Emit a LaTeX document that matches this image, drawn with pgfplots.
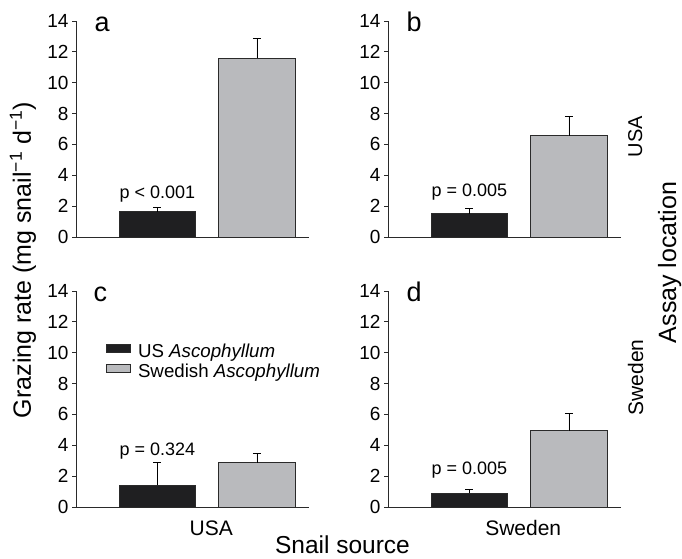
\documentclass[border=0pt]{standalone}
\usepackage{fontspec}
\setmainfont{Liberation Sans}
\usepackage{pgfplots}
\pgfplotsset{compat=1.18}
\definecolor{barblack}{HTML}{1F1F21}
\definecolor{bargray}{HTML}{B9BABD}
\definecolor{edge}{HTML}{2A2A2A}
\newcommand{\fs}[1]{\fontsize{#1}{#1}\selectfont}
\pgfplotsset{
  panel/.style={
    scale only axis, width=233pt, height=216pt,
    xmin=0.181, xmax=2.523, ymin=0, ymax=14,
    axis x line=bottom, axis y line=left,
    axis line style={-, line width=0.8pt, draw=edge},
    xtick=\empty, ytick={0,2,...,14},
    tick align=outside, major tick length=4pt,
    tick style={line width=0.8pt, draw=edge},
    yticklabel style={font=\fs{19}},
    /pgf/number format/assume math mode=true,
    clip=false,
  },
  barbase/.style={ybar, bar width=0.77, bar shift=0pt, line width=1pt, draw=edge,
    error bars/y dir=plus, error bars/y explicit,
    error bars/error bar style={line width=0.8pt, draw=black, solid},
    error bars/error mark options={rotate=90, line width=0.8pt, mark size=4pt, draw=black}},
  blk/.style={barbase, fill=barblack,
    legend image code/.code={\draw[fill=barblack, draw=edge, line width=1pt] (0pt,-0.7pt) rectangle (24pt,7.3pt);}},
  gry/.style={barbase, fill=bargray,
    legend image code/.code={\draw[fill=bargray, draw=edge, line width=1pt] (0pt,-0.7pt) rectangle (24pt,7.3pt);}},
}
\begin{document}
\begin{tikzpicture}[x=1pt,y=1pt]
\path[use as bounding box] (0,0) rectangle (682,558);

% panel a
\begin{axis}[panel, at={(76pt,321pt)}, anchor=south west]
\addplot[blk] coordinates {(1,1.63) +- (0,0.30)};
\addplot[gry] coordinates {(2,11.57) +- (0,1.30)};
\node[anchor=base west, font=\fs{27}] at (rel axis cs:0.065,0.95) {a};
\node[anchor=base, font=\fs{18}] at (axis cs:1,2.5) {p < 0.001};
\end{axis}

% panel b
\begin{axis}[panel, at={(388pt,321pt)}, anchor=south west]
\addplot[blk] coordinates {(1,1.50) +- (0,0.37)};
\addplot[gry] coordinates {(2,6.55) +- (0,1.28)};
\node[anchor=base west, font=\fs{27}] at (rel axis cs:0.065,0.95) {b};
\node[anchor=base, font=\fs{18}] at (axis cs:1,2.62) {p = 0.005};
\end{axis}

% panel c
\begin{axis}[panel, at={(76pt,51pt)}, anchor=south west,
  legend style={draw=none, fill=none, inner sep=0pt, at={(rel axis cs:0.128,0.674)}, anchor=west,
    font=\fs{18.7}, nodes={inner sep=2pt}, row sep=1pt,
    /tikz/every odd column/.style={column sep=5pt}},
  legend cell align=left]
\addplot[blk] coordinates {(1,1.42) +- (0,1.46)};
\addlegendentry{US \textit{Ascophyllum}}
\addplot[gry] coordinates {(2,2.88) +- (0,0.60)};
\addlegendentry{Swedish \textit{Ascophyllum}}
\node[anchor=base west, font=\fs{27}] at (rel axis cs:0.06,0.952) {c};
\node[anchor=base, font=\fs{18}] at (axis cs:1,3.37) {p = 0.324};
\node[anchor=base, font=\fs{21}, yshift=-28.5pt] at (axis cs:1.54,0) {USA};
\end{axis}

% panel d
\begin{axis}[panel, at={(388pt,51pt)}, anchor=south west]
\addplot[blk] coordinates {(1,0.90) +- (0,0.25)};
\addplot[gry] coordinates {(2,4.93) +- (0,1.11)};
\node[anchor=base west, font=\fs{27}] at (rel axis cs:0.065,0.95) {d};
\node[anchor=base, font=\fs{18}] at (axis cs:1,2.09) {p = 0.005};
\node[anchor=base, font=\fs{21}, yshift=-28.5pt] at (axis cs:1.54,0) {Sweden};
\end{axis}

% outer labels
\node[rotate=90, anchor=base, font=\fs{25}] at (31,298) {Grazing rate (mg snail\textsuperscript{−1} d\textsuperscript{−1})};
\node[rotate=90, anchor=base, font=\fs{25}] at (676,295.5) {Assay location};
\node[rotate=90, anchor=base, font=\fs{20}] at (642,421.5) {USA};
\node[rotate=90, anchor=base, font=\fs{21}] at (643,180.5) {Sweden};
\node[anchor=base, inner sep=0pt, font=\fs{24.5}] at (342.5,4.5) {Snail source};
\end{tikzpicture}
\end{document}
